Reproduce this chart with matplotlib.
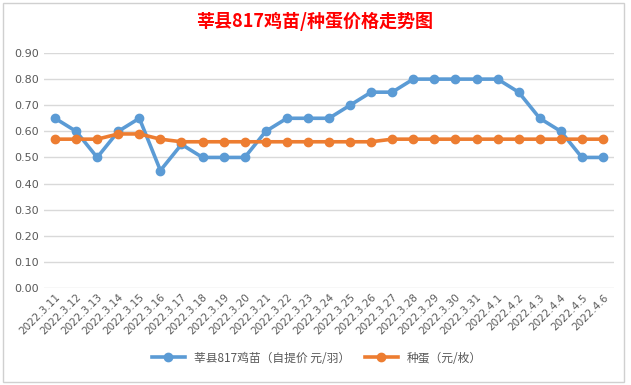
import matplotlib
matplotlib.use("Agg")
import matplotlib.pyplot as plt
from matplotlib.patches import Rectangle

plt.rcParams['font.family'] = ['Noto Sans CJK SC', 'DejaVu Sans']

dates = ["2022.3.11", "2022.3.12", "2022.3.13", "2022.3.14", "2022.3.15", "2022.3.16",
         "2022.3.17", "2022.3.18", "2022.3.19", "2022.3.20", "2022.3.21", "2022.3.22",
         "2022.3.23", "2022.3.24", "2022.3.25", "2022.3.26", "2022.3.27", "2022.3.28",
         "2022.3.29", "2022.3.30", "2022.3.31", "2022.4.1", "2022.4.2", "2022.4.3",
         "2022.4.4", "2022.4.5", "2022.4.6"]
chick = [0.65, 0.60, 0.50, 0.60, 0.65, 0.45, 0.55, 0.50, 0.50, 0.50, 0.60, 0.65,
         0.65, 0.65, 0.70, 0.75, 0.75, 0.80, 0.80, 0.80, 0.80, 0.80, 0.75, 0.65,
         0.60, 0.50, 0.50]
egg = [0.57, 0.57, 0.57, 0.59, 0.59, 0.57, 0.56, 0.56, 0.56, 0.56, 0.56, 0.56,
       0.56, 0.56, 0.56, 0.56, 0.57, 0.57, 0.57, 0.57, 0.57, 0.57, 0.57, 0.57,
       0.57, 0.57, 0.57]
yticks = [0.0, 0.1, 0.2, 0.3, 0.4, 0.5, 0.6, 0.7, 0.8, 0.9]

W, H = 631, 385
fig = plt.figure(figsize=(W/100, H/100), dpi=100)
fig.patch.set_facecolor('white')
fig.patches.append(Rectangle((3/W, 3/H), 621/W, 379/H, transform=fig.transFigure,
                             fill=False, edgecolor='#d0d0d0', lw=1))

left, right = 44.5, 613.5
top, bottom = 53, 288
ax = fig.add_axes([left/W, 1-bottom/H, (right-left)/W, (bottom-top)/H])
x = list(range(len(dates)))
ax.plot(x, chick, color='#5b9bd5', lw=2.6, marker='o', ms=6, label='莘县817鸡苗（自提价 元/羽）', zorder=3)
ax.plot(x, egg, color='#ed7d31', lw=2.6, marker='o', ms=6, label='种蛋（元/枚）', zorder=4)
ax.set_xlim(-0.5, len(dates)-0.5)
ax.set_ylim(0, 0.9)
ax.set_yticks(yticks)
ax.set_yticklabels([f"{v:.2f}" for v in yticks], fontsize=8, color='#595959', family=['DejaVu Sans'])
ax.set_xticks(x)
ax.set_xticklabels(dates, rotation=45, ha='right', rotation_mode='anchor', fontsize=7.5, color='#595959', family=['DejaVu Sans'])
ax.grid(axis='y', color='#d9d9d9', lw=1)
ax.set_axisbelow(True)
for s in ax.spines.values():
    s.set_visible(False)
ax.tick_params(length=0, pad=4)
ax.tick_params(axis='x', pad=3)

fig.text(315/W, 1-21/H, '莘县817鸡苗/种蛋价格走势图', ha='center', va='center',
         fontsize=13, fontweight='bold', color='#ff0000')
fig.legend(loc='center', bbox_to_anchor=(317/W, 1-358/H), ncol=2, frameon=False,
           fontsize=8.5, handlelength=2.8, columnspacing=1.2, labelcolor='#595959')
fig.savefig('out.png', dpi=100)
